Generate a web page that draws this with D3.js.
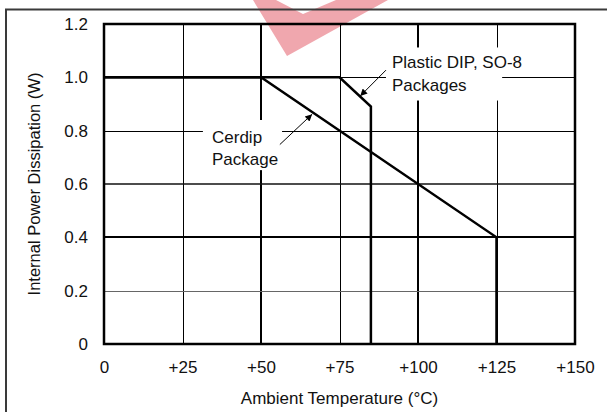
<!DOCTYPE html>
<html>
<head>
<meta charset="utf-8">
<script src="https://cdn.jsdelivr.net/npm/d3@7"></script>
<style>
  html, body { margin: 0; padding: 0; background: #fff; }
  svg { display: block; }
  text { font-family: "Liberation Sans", Arial, Helvetica, sans-serif; fill: #111; }
</style>
</head>
<body>
<svg id="chart" width="607" height="412"></svg>
<script>
// ---- data ----
const xTicks = [0, 25, 50, 75, 100, 125, 150];
const xTickLabels = ["0", "+25", "+50", "+75", "+100", "+125", "+150"];
const yTicks = [0, 0.2, 0.4, 0.6, 0.8, 1.0, 1.2];
const yTickLabels = ["0", "0.2", "0.4", "0.6", "0.8", "1.0", "1.2"];

const cerdipTemp  = [0, 50, 125, 125];
const cerdipPower = [1.0, 1.0, 0.4, 0];

const plasticTemp  = [0, 75, 85, 85];
const plasticPower = [1.0, 1.0, 0.89, 0];

const xTitle = "Ambient Temperature (°C)";
const yTitle = "Internal Power Dissipation (W)";
const plasticLabel = ["Plastic DIP, SO-8", "Packages"];
const cerdipLabel = ["Cerdip", "Package"];

// ---- drawing ----
const svg = d3.select("#chart");
const W = 607, H = 412;
const m = { left: 104, right: 32, top: 24, bottom: 68 };
const x = d3.scaleLinear().domain([0, 150]).range([m.left, W - m.right]);
const y = d3.scaleLinear().domain([0, 1.2]).range([H - m.bottom, m.top]);

// watermark-like decoration at top
svg.append("polygon")
  .attr("points", "253,0 287,56 388,0 336,0 303,14 276,0")
  .attr("fill", "rgb(222,60,75)").attr("opacity", 0.45);

// outer frame (left + top)
svg.append("line").attr("x1", 6).attr("x2", 6).attr("y1", 9).attr("y2", H)
  .attr("stroke", "#3a3a3a").attr("stroke-width", 2);
svg.append("line").attr("x1", 5).attr("x2", W).attr("y1", 9.5).attr("y2", 9.5)
  .attr("stroke", "#3a3a3a").attr("stroke-width", 2);

// grid
const vWidth = { 25: 1, 50: 2, 75: 1, 100: 2, 125: 1 };
const hWidth = { 0.2: 1, 0.4: 2, 0.6: 1.5, 0.8: 1, 1: 1 };
const hColor = { 0.2: "#666", 0.4: "#000", 0.6: "#111", 0.8: "#000", 1: "#000" };
const g = svg.append("g");
g.selectAll("line.v").data(xTicks.filter(t => t > 0 && t < 150)).join("line")
  .attr("class", "v")
  .attr("x1", d => Math.round(x(d)) + (vWidth[d] === 1 ? 0.5 : 0))
  .attr("x2", d => Math.round(x(d)) + (vWidth[d] === 1 ? 0.5 : 0))
  .attr("y1", y(1.2)).attr("y2", y(0))
  .attr("stroke", "#000").attr("stroke-width", d => vWidth[d]);
g.selectAll("line.h").data(yTicks.filter(t => t > 0 && t < 1.2)).join("line")
  .attr("class", "h")
  .attr("x1", x(0)).attr("x2", x(150))
  .attr("y1", d => Math.round(y(d)) + (hWidth[+d.toFixed(1)] === 1 ? 0.5 : 0))
  .attr("y2", d => Math.round(y(d)) + (hWidth[+d.toFixed(1)] === 1 ? 0.5 : 0))
  .attr("stroke", d => hColor[+d.toFixed(1)])
  .attr("stroke-width", d => hWidth[+d.toFixed(1)]);

// label background boxes (break the grid around the annotations)
svg.append("rect")
  .attr("x", x(89.8)).attr("y", y(1.112))
  .attr("width", x(126.8) - x(89.8)).attr("height", y(0.913) - y(1.112))
  .attr("fill", "#fff");
svg.append("rect")
  .attr("x", x(31.5)).attr("y", y(0.84))
  .attr("width", x(56.7) - x(31.5)).attr("height", y(0.652) - y(0.84))
  .attr("fill", "#fff");

// curves
const line = d3.line().x(d => x(d[0])).y(d => y(d[1]));
svg.append("path")
  .attr("d", line(cerdipTemp.map((t, i) => [t, cerdipPower[i]])))
  .attr("fill", "none").attr("stroke", "#000").attr("stroke-width", 2.5)
  .attr("stroke-linejoin", "miter");
svg.append("path")
  .attr("d", line(plasticTemp.map((t, i) => [t, plasticPower[i]])))
  .attr("fill", "none").attr("stroke", "#000").attr("stroke-width", 2.5)
  .attr("stroke-linejoin", "miter");

// plot border
svg.append("rect")
  .attr("x", x(0)).attr("y", y(1.2))
  .attr("width", x(150) - x(0)).attr("height", y(0) - y(1.2))
  .attr("fill", "none").attr("stroke", "#000").attr("stroke-width", 2.5);

// arrows
const defs = svg.append("defs");
defs.append("marker").attr("id", "ah")
  .attr("viewBox", "0 0 10 10").attr("refX", 10).attr("refY", 5)
  .attr("markerWidth", 9).attr("markerHeight", 7).attr("markerUnits", "userSpaceOnUse")
  .attr("orient", "auto")
  .append("path").attr("d", "M0,0 L10,5 L0,10 z").attr("fill", "#000");
svg.append("line")
  .attr("x1", x(89.8)).attr("y1", y(1.027)).attr("x2", x(81.6)).attr("y2", y(0.93))
  .attr("stroke", "#000").attr("stroke-width", 1).attr("marker-end", "url(#ah)");
svg.append("line")
  .attr("x1", x(56.0)).attr("y1", y(0.748)).attr("x2", x(66.3)).attr("y2", y(0.862))
  .attr("stroke", "#000").attr("stroke-width", 1).attr("marker-end", "url(#ah)");

// annotation text
const fs = 17;
const pl = svg.append("text").attr("font-size", fs);
plasticLabel.forEach((s, i) => pl.append("tspan")
  .attr("x", x(91.7)).attr("y", y(1.035) + i * 23).text(s));
const cl = svg.append("text").attr("font-size", fs);
cerdipLabel.forEach((s, i) => cl.append("tspan")
  .attr("x", x(34.4)).attr("y", y(0.752) + i * 22).text(s));

// axes (labels only)
const xAxis = d3.axisBottom(x).tickValues(xTicks)
  .tickFormat((d, i) => xTickLabels[i]).tickSize(0).tickPadding(0);
const xg = svg.append("g").attr("transform", `translate(0,${y(0)})`).call(xAxis);
xg.select(".domain").remove();
xg.selectAll("text").attr("font-size", fs).attr("dy", null).attr("y", 29)
  .attr("font-family", null).attr("fill", "#111");

const yAxis = d3.axisLeft(y).tickValues(yTicks)
  .tickFormat((d, i) => yTickLabels[i]).tickSize(0).tickPadding(16);
const yg = svg.append("g").attr("transform", `translate(${x(0)},0)`).call(yAxis);
yg.select(".domain").remove();
yg.selectAll("text").attr("font-size", fs).attr("font-family", null).attr("fill", "#111");

// axis titles
svg.append("text").attr("x", (x(0) + x(150)) / 2).attr("y", 404)
  .attr("text-anchor", "middle").attr("font-size", fs).text(xTitle);
svg.append("text")
  .attr("transform", `translate(40,${(y(0) + y(1.2)) / 2}) rotate(-90)`)
  .attr("text-anchor", "middle").attr("font-size", 16.5).text(yTitle);
</script>
</body>
</html>
